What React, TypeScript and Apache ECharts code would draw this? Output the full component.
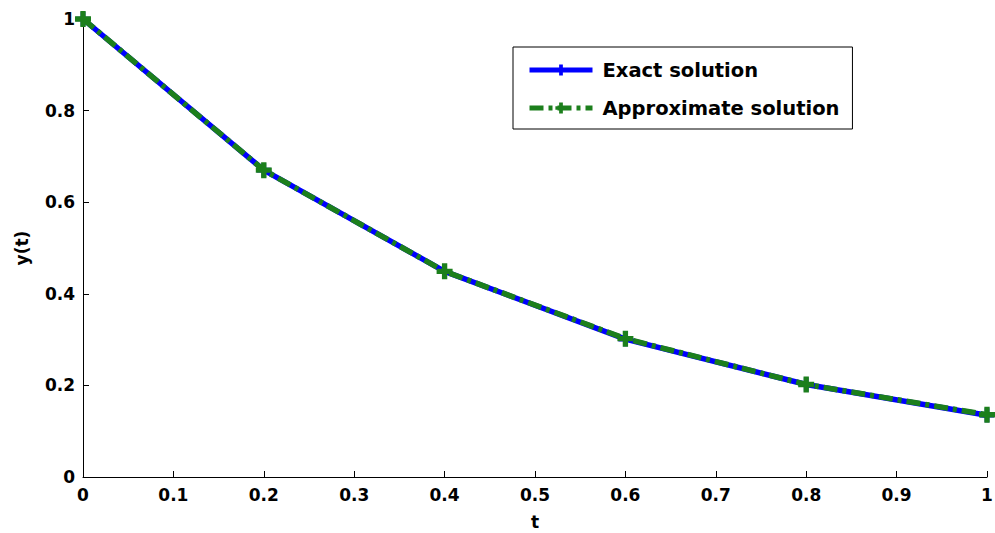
import React, { useEffect, useRef } from "react";
import * as echarts from "echarts";

const tValues = [0, 0.2, 0.4, 0.6, 0.8, 1];
const exactValues = [1, 0.67, 0.449, 0.301, 0.202, 0.135];
const approxValues = [1, 0.67, 0.449, 0.302, 0.202, 0.136];
const seriesNames = ["Exact solution", "Approximate solution"];

const plusPath = "path://M-1,-3H1V-1H3V1H1V3H-1V1H-3V-1H-1Z";

export default function App() {
  const ref = useRef<HTMLDivElement>(null);
  useEffect(() => {
    document.body.style.margin = "0";
    const chart = echarts.init(ref.current!, null, { renderer: "svg" });
    const font = { fontFamily: "DejaVu Sans, sans-serif", fontWeight: "bold" as const, fontSize: 17, color: "#000" };
    chart.setOption({
      animation: false,
      backgroundColor: "#fff",
      grid: { left: 83, right: 8, top: 19, bottom: 56, containLabel: false, outerBoundsMode: "none" },
      xAxis: {
        type: "value",
        min: 0,
        max: 1,
        interval: 0.1,
        name: "t",
        nameLocation: "middle",
        nameGap: 36,
        nameTextStyle: font,
        axisLine: { show: true, lineStyle: { color: "#000", width: 1 } },
        axisTick: { show: true, inside: true, length: 6, lineStyle: { color: "#000" } },
        axisLabel: { ...font, margin: 9, formatter: (v: number) => String(Math.round(v * 10) / 10) },
        splitLine: { show: false },
      },
      yAxis: {
        type: "value",
        min: 0,
        max: 1,
        interval: 0.2,
        name: "y(t)",
        nameLocation: "middle",
        nameGap: 53,
        nameTextStyle: font,
        axisLine: { show: true, lineStyle: { color: "#000", width: 1 } },
        axisTick: { show: true, inside: true, length: 6, lineStyle: { color: "#000" } },
        axisLabel: { ...font, margin: 8, formatter: (v: number) => String(Math.round(v * 10) / 10) },
        splitLine: { show: false },
      },
      legend: {
        orient: "vertical",
        left: 513,
        top: 47,
        borderColor: "#000",
        borderWidth: 1,
        borderRadius: 0,
        padding: [13, 13, 11, 14],
        itemGap: 18,
        itemWidth: 63,
        itemHeight: 14,
        lineStyle: { width: 5 },
        textStyle: { ...font, fontSize: 19.5, padding: [0, 0, 0, 5] },
        data: seriesNames,
      },
      series: [
        {
          name: seriesNames[0],
          type: "line",
          data: tValues.map((t, i) => [t, exactValues[i]]),
          lineStyle: { color: "#0000ff", width: 5.5 },
          itemStyle: { color: "#0000ff" },
          symbol: plusPath,
          symbolSize: 14,
          showSymbol: true,
          z: 2,
        },
        {
          name: seriesNames[1],
          type: "line",
          data: tValues.map((t, i) => [t, approxValues[i]]),
          lineStyle: { color: "#1c7f1c", width: 5.5, type: [14, 5, 4, 5] },
          itemStyle: { color: "#1c7f1c" },
          symbol: plusPath,
          symbolSize: 16,
          showSymbol: true,
          z: 3,
        },
      ],
    });
    return () => chart.dispose();
  }, []);
  return <div ref={ref} style={{ width: 995, height: 533, position: "absolute", left: 0, top: 0 }} />;
}
